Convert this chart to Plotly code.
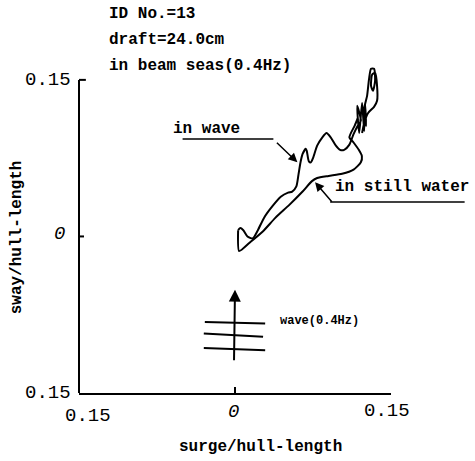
import plotly.graph_objects as go

# surge / sway trajectories (normalised by hull length)
wave_surge = [0.003, 0.005, 0.008, 0.012, 0.017, 0.022, 0.028, 0.036, 0.044, 0.051,
              0.055, 0.059, 0.061, 0.063, 0.065, 0.068, 0.069, 0.071, 0.073, 0.075,
              0.079, 0.084, 0.088, 0.092, 0.097, 0.101, 0.105, 0.110, 0.114, 0.118,
              0.121, 0.1175, 0.1194, 0.1222, 0.1242, 0.1251, 0.1261, 0.1242, 0.1270,
              0.1289, 0.1308, 0.1337, 0.1347, 0.1327, 0.1308, 0.1318, 0.1347, 0.1366,
              0.1366, 0.1337, 0.1280, 0.1242, 0.1222]
wave_sway = [0.006, 0.008, 0.006, 0.000, -0.002, 0.006, 0.018, 0.029, 0.038, 0.042,
             0.043, 0.048, 0.059, 0.071, 0.079, 0.084, 0.082, 0.072, 0.071, 0.075,
             0.087, 0.095, 0.099, 0.095, 0.087, 0.083, 0.083, 0.088, 0.098, 0.106,
             0.111, 0.1251, 0.0991, 0.1279, 0.1010, 0.1270, 0.1058, 0.1222, 0.1347,
             0.1510, 0.1607, 0.1607, 0.1491, 0.1395, 0.1443, 0.1549, 0.1568, 0.1443,
             0.1299, 0.1241, 0.1183, 0.1087, 0.0991]

still_surge = [0.003, 0.004, 0.014, 0.027, 0.039, 0.052, 0.065, 0.074, 0.079, 0.090,
               0.103, 0.114, 0.121, 0.122, 0.119, 0.114, 0.110, 0.115, 0.118]
still_sway = [0.006, -0.014, -0.006, 0.005, 0.018, 0.030, 0.043, 0.053, 0.056, 0.058,
              0.060, 0.064, 0.071, 0.077, 0.083, 0.090, 0.095, 0.106, 0.113]

axis_tick_text = ["0.15", "<i>0</i>", "0.15"]

header_lines = ["ID No.=13", "draft=24.0cm", "in beam seas(0.4Hz)"]

mono = "Liberation Mono"
ink = "black"

# y range is opened a little above 0.15 so the oscillating end of the track stays visible;
# the drawn axis frame itself spans -0.15..0.15
Y_LO, Y_HI, FRAME_HI = -0.15, 0.17, 0.15


def fy(f):
    """fraction of the -0.15..0.15 frame height -> paper y"""
    return f * (FRAME_HI - Y_LO) / (Y_HI - Y_LO)


fig = go.Figure()
for xs, ys in [(wave_surge, wave_sway), (still_surge, still_sway)]:
    fig.add_trace(go.Scatter(x=xs, y=ys, mode="lines",
                             line=dict(color=ink, width=2, shape="spline", smoothing=0.6),
                             showlegend=False, hoverinfo="skip"))

annotations = []
# header text
for i, t in enumerate(header_lines):
    annotations.append(dict(text="<b>" + t + "</b>", xref="paper", yref="paper",
                            x=0.091, y=fy(1.211 - i * 0.083), xanchor="left", yanchor="middle",
                            showarrow=False, font=dict(family=mono, size=16, color=ink)))

# tick labels
tick_font = dict(family=mono, size=19, color=ink)
annotations += [
    dict(text=axis_tick_text[2], xref="paper", yref="paper", x=-0.019, y=fy(1.0),
         xanchor="right", yanchor="middle", showarrow=False, font=tick_font),
    dict(text=axis_tick_text[1], xref="paper", yref="paper", x=-0.064, y=fy(0.508),
         xanchor="center", yanchor="middle", showarrow=False, font=tick_font),
    dict(text=axis_tick_text[0], xref="paper", yref="paper", x=-0.019, y=fy(0.0),
         xanchor="right", yanchor="middle", showarrow=False, font=tick_font),
    dict(text=axis_tick_text[0], xref="paper", yref="paper", x=0.029, y=fy(-0.075),
         xanchor="center", yanchor="middle", showarrow=False, font=tick_font),
    dict(text=axis_tick_text[1], xref="paper", yref="paper", x=0.495, y=fy(-0.061),
         xanchor="center", yanchor="middle", showarrow=False, font=tick_font),
    dict(text=axis_tick_text[2], xref="paper", yref="paper", x=0.987, y=fy(-0.058),
         xanchor="center", yanchor="middle", showarrow=False, font=tick_font),
]

# axis titles
title_font = dict(family=mono, size=16, color=ink)
annotations += [
    dict(text="<b>surge/hull-length</b>", xref="paper", yref="paper", x=0.581, y=fy(-0.172),
         xanchor="center", yanchor="middle", showarrow=False, font=title_font),
    dict(text="<b>sway/hull-length</b>", xref="paper", yref="paper", x=-0.198, y=fy(0.498),
         xanchor="center", yanchor="middle", showarrow=False, textangle=-90, font=title_font),
]

# curve labels with leader arrows
annotations += [
    dict(text="<b>in wave</b>", xref="paper", yref="paper", x=0.524, y=fy(0.843),
         xanchor="right", yanchor="middle", showarrow=False, font=title_font),
    dict(text="", xref="x", yref="y", x=0.060, y=0.071, axref="pixel", ayref="pixel",
         ax=-22, ay=-21, showarrow=True, arrowhead=2, arrowsize=1.2, arrowwidth=1.5,
         arrowcolor=ink, standoff=0),
    dict(text="<b>in still water</b>", xref="paper", yref="paper", x=0.815, y=fy(0.658),
         xanchor="left", yanchor="middle", showarrow=False, font=title_font),
    dict(text="", xref="x", yref="y", x=0.077, y=0.052, axref="pixel", ayref="pixel",
         ax=18, ay=21, showarrow=True, arrowhead=2, arrowsize=1.2, arrowwidth=1.5,
         arrowcolor=ink, standoff=0),
    dict(text="<b>wave(0.4Hz)</b>", xref="paper", yref="paper", x=0.639, y=fy(0.230),
         xanchor="left", yanchor="middle", showarrow=False,
         font=dict(family=mono, size=12, color=ink)),
    dict(text="", xref="x", yref="y", x=0.0, y=-0.051, axref="pixel", ayref="pixel",
         ax=-1, ay=72, showarrow=True, arrowhead=2, arrowsize=1.2, arrowwidth=2,
         arrowcolor=ink, standoff=0),
]

shapes = [
    # y axis frame line (stops at 0.15) and its inward ticks
    dict(type="line", xref="paper", yref="y", x0=0, y0=Y_LO, x1=0, y1=FRAME_HI,
         line=dict(color=ink, width=2)),
    dict(type="line", xref="paper", yref="y", x0=0, y0=FRAME_HI, x1=0.022, y1=FRAME_HI,
         line=dict(color=ink, width=2)),
    dict(type="line", xref="paper", yref="y", x0=0, y0=0, x1=0.016, y1=0,
         line=dict(color=ink, width=2)),
    # leader line segments
    dict(type="line", xref="paper", yref="paper", x0=0.332, y0=fy(0.8115), x1=0.623, y1=fy(0.8115),
         line=dict(color=ink, width=1.5)),
    dict(type="line", xref="paper", yref="paper", x0=0.805, y0=fy(0.610), x1=1.236, y1=fy(0.610),
         line=dict(color=ink, width=1.5)),
    # wave crest lines
    dict(type="line", xref="x", yref="y", x0=-0.029, y0=-0.082, x1=0.029, y1=-0.0835,
         line=dict(color=ink, width=2)),
    dict(type="line", xref="x", yref="y", x0=-0.030, y0=-0.093, x1=0.027, y1=-0.096,
         line=dict(color=ink, width=2)),
    dict(type="line", xref="x", yref="y", x0=-0.030, y0=-0.1068, x1=0.029, y1=-0.109,
         line=dict(color=ink, width=2)),
]

fig.update_layout(
    width=475, height=461,
    margin=dict(l=79, r=84, t=59, b=68),
    paper_bgcolor="white", plot_bgcolor="white",
    xaxis=dict(range=[-0.15, 0.15], showgrid=False, zeroline=False, showline=True,
               linecolor=ink, linewidth=2, ticks="inside", ticklen=6, tickwidth=2,
               tickcolor=ink, showticklabels=False, tickvals=[0, 0.15]),
    yaxis=dict(range=[Y_LO, Y_HI], showgrid=False, zeroline=False, showline=False,
               ticks="", showticklabels=False),
    annotations=annotations,
    shapes=shapes,
)

fig.write_html("out.html")
